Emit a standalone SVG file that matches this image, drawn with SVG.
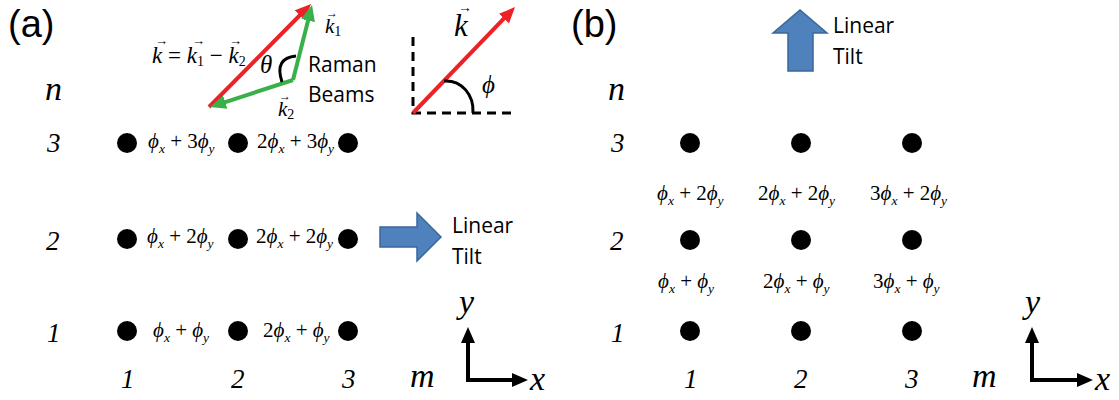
<svg xmlns="http://www.w3.org/2000/svg" width="1119" height="400" viewBox="0 0 1119 400">
<style>
.m{font-family:"Times New Roman","Liberation Serif",serif;font-size:21px;fill:#000}
.i{font-style:italic}
.s{font-size:13.5px;font-style:italic}
.sr{font-size:14px}
.lab{font-family:"Times New Roman","Liberation Serif",serif;font-style:italic;fill:#000}
.num{font-size:27px}
.big{font-size:34px}
.sans{font-family:"Open Sans","Liberation Sans",sans-serif;font-size:21px;fill:#000}
.title{font-family:"Liberation Sans","Open Sans",sans-serif;font-size:38px;fill:#000}
.acc{font-family:"Times New Roman","Liberation Serif",serif;fill:#000}
.dot{fill:#000}
.red{stroke:#EC2227;stroke-width:4;fill:none}
.grn{stroke:#3AB04A;stroke-width:4;fill:none}
.ax{stroke:#000;stroke-width:4;fill:none;stroke-linejoin:miter}
.dash{stroke:#000;stroke-width:3;stroke-dasharray:9 6;fill:none}
.arc{stroke:#000;stroke-width:3;fill:none}
.blk{fill:#4F81BD;stroke:#3A679A;stroke-width:1.5}
</style>
<defs>
<marker id="hr" markerUnits="userSpaceOnUse" markerWidth="16" markerHeight="14" viewBox="0 0 16 14" refX="4" refY="7" orient="auto"><path d="M0,0 L16,7 L0,14 z" fill="#EC2227"/></marker>
<marker id="hg" markerUnits="userSpaceOnUse" markerWidth="16" markerHeight="14" viewBox="0 0 16 14" refX="4" refY="7" orient="auto"><path d="M0,0 L16,7 L0,14 z" fill="#3AB04A"/></marker>
<marker id="hk" markerUnits="userSpaceOnUse" markerWidth="16" markerHeight="14" viewBox="0 0 16 14" refX="4" refY="7" orient="auto-start-reverse"><path d="M0,0 L16,7 L0,14 z" fill="#000"/></marker>
</defs>

<!-- Panel (a) -->
<g id="panel-a">
<text class="title" x="8" y="37">(a)</text>
<text class="lab big" x="45" y="100">n</text>
<text class="lab num" x="47" y="152">3</text>
<text class="lab num" x="46" y="250">2</text>
<text class="lab num" x="47" y="342">1</text>
<text class="lab num" x="121" y="388">1</text>
<text class="lab num" x="231" y="388">2</text>
<text class="lab num" x="342" y="388">3</text>
<text class="lab big" x="410" y="387">m</text>

<g id="a-sites">
<g id="a-3-1"><circle class="dot" cx="127" cy="143" r="10"/></g>
<g id="a-3-2"><circle class="dot" cx="238" cy="143" r="10"/></g>
<g id="a-3-3"><circle class="dot" cx="348" cy="143" r="10"/></g>
<g id="a-2-1"><circle class="dot" cx="127" cy="239" r="10"/></g>
<g id="a-2-2"><circle class="dot" cx="238" cy="239" r="10"/></g>
<g id="a-2-3"><circle class="dot" cx="348" cy="239" r="10"/></g>
<g id="a-1-1"><circle class="dot" cx="127" cy="331" r="10"/></g>
<g id="a-1-2"><circle class="dot" cx="238" cy="331" r="10"/></g>
<g id="a-1-3"><circle class="dot" cx="348" cy="331" r="10"/></g>
</g>

<g id="a-phases">
<text class="m" x="148" y="148"><tspan class="i">ϕ</tspan><tspan class="s" dy="5">x</tspan><tspan dy="-5"> + 3</tspan><tspan class="i">ϕ</tspan><tspan class="s" dy="5">y</tspan></text>
<text class="m" x="257" y="148">2<tspan class="i">ϕ</tspan><tspan class="s" dy="5">x</tspan><tspan dy="-5"> + 3</tspan><tspan class="i">ϕ</tspan><tspan class="s" dy="5">y</tspan></text>
<text class="m" x="147" y="243"><tspan class="i">ϕ</tspan><tspan class="s" dy="5">x</tspan><tspan dy="-5"> + 2</tspan><tspan class="i">ϕ</tspan><tspan class="s" dy="5">y</tspan></text>
<text class="m" x="256" y="243">2<tspan class="i">ϕ</tspan><tspan class="s" dy="5">x</tspan><tspan dy="-5"> + 2</tspan><tspan class="i">ϕ</tspan><tspan class="s" dy="5">y</tspan></text>
<text class="m" x="153" y="337"><tspan class="i">ϕ</tspan><tspan class="s" dy="5">x</tspan><tspan dy="-5"> + </tspan><tspan class="i">ϕ</tspan><tspan class="s" dy="5">y</tspan></text>
<text class="m" x="263" y="337">2<tspan class="i">ϕ</tspan><tspan class="s" dy="5">x</tspan><tspan dy="-5"> + </tspan><tspan class="i">ϕ</tspan><tspan class="s" dy="5">y</tspan></text>
</g>

<!-- Raman beam triangle -->
<g id="raman-vectors">
<path class="red" d="M209,107 L302.6,12.5" marker-end="url(#hr)"/>
<path class="grn" d="M293,80 L309.1,16.6" marker-end="url(#hg)"/>
<path class="grn" d="M293,80 L221.4,103.3" marker-end="url(#hg)"/>
<path class="arc" d="M296,56 Q274,58 282,82"/>
</g>
<text class="m i" x="260" y="73" style="font-size:25px">θ</text>
<text class="m" x="152" y="63" style="font-size:23px"><tspan class="i">k</tspan> = <tspan class="i">k</tspan><tspan class="sr" dy="3">1</tspan><tspan dy="-3"> − </tspan><tspan class="i">k</tspan><tspan class="sr" dy="3">2</tspan></text>
<text class="acc" x="155" y="45" style="font-size:13px">→</text>
<text class="acc" x="192" y="45" style="font-size:13px">→</text>
<text class="acc" x="229" y="45" style="font-size:13px">→</text>
<text class="m" x="325" y="33"><tspan class="i">k</tspan><tspan class="sr" dy="3">1</tspan></text>
<text class="acc" x="326" y="17" style="font-size:12px">→</text>
<text class="m" x="278" y="116"><tspan class="i">k</tspan><tspan class="sr" dy="3">2</tspan></text>
<text class="acc" x="279" y="100" style="font-size:12px">→</text>
<text class="sans" x="308" y="72">Raman</text>
<text class="sans" x="308" y="102">Beams</text>

<!-- k angle inset -->
<g id="k-angle">
<path class="dash" d="M413,37 V113 H512"/>
<path class="red" d="M413,113 L506.7,15.7" marker-end="url(#hr)"/>
<path class="arc" d="M444,81 C462,80 474,95 473,113"/>
</g>
<text class="m i" x="454" y="36" style="font-size:31px">k</text>
<text class="acc" x="458" y="12" style="font-size:14px">→</text>
<text class="m i" x="482" y="93" style="font-size:25px">ϕ</text>

<!-- linear tilt arrow -->
<g id="a-tilt">
<polygon class="blk" points="380,227 417,227 417,213 441,237 417,261 417,247 380,247"/>
<text class="sans" x="452" y="233">Linear</text>
<text class="sans" x="452" y="264">Tilt</text>
</g>

<!-- axes -->
<g id="a-axes">
<path class="ax" d="M468,339 V380 H516" marker-start="url(#hk)" marker-end="url(#hk)"/>
<text class="lab big" x="459" y="313">y</text>
<text class="lab big" x="530" y="390">x</text>
</g>
</g>

<!-- Panel (b) -->
<g id="panel-b">
<text class="title" x="571" y="37">(b)</text>
<text class="lab big" x="608" y="100">n</text>
<text class="lab num" x="611" y="152">3</text>
<text class="lab num" x="610" y="250">2</text>
<text class="lab num" x="611" y="342">1</text>
<text class="lab num" x="684" y="388">1</text>
<text class="lab num" x="794" y="388">2</text>
<text class="lab num" x="905" y="388">3</text>
<text class="lab big" x="972" y="387">m</text>

<g id="b-sites">
<g id="b-3-1"><circle class="dot" cx="690" cy="143" r="10"/></g>
<g id="b-3-2"><circle class="dot" cx="801" cy="143" r="10"/></g>
<g id="b-3-3"><circle class="dot" cx="912" cy="143" r="10"/></g>
<g id="b-2-1"><circle class="dot" cx="690" cy="240" r="10"/></g>
<g id="b-2-2"><circle class="dot" cx="801" cy="240" r="10"/></g>
<g id="b-2-3"><circle class="dot" cx="912" cy="240" r="10"/></g>
<g id="b-1-1"><circle class="dot" cx="690" cy="331" r="10"/></g>
<g id="b-1-2"><circle class="dot" cx="801" cy="331" r="10"/></g>
<g id="b-1-3"><circle class="dot" cx="912" cy="331" r="10"/></g>
</g>

<g id="b-phases">
<text class="m" x="657" y="200"><tspan class="i">ϕ</tspan><tspan class="s" dy="5">x</tspan><tspan dy="-5"> + 2</tspan><tspan class="i">ϕ</tspan><tspan class="s" dy="5">y</tspan></text>
<text class="m" x="758" y="200">2<tspan class="i">ϕ</tspan><tspan class="s" dy="5">x</tspan><tspan dy="-5"> + 2</tspan><tspan class="i">ϕ</tspan><tspan class="s" dy="5">y</tspan></text>
<text class="m" x="870" y="200">3<tspan class="i">ϕ</tspan><tspan class="s" dy="5">x</tspan><tspan dy="-5"> + 2</tspan><tspan class="i">ϕ</tspan><tspan class="s" dy="5">y</tspan></text>
<text class="m" x="658" y="288"><tspan class="i">ϕ</tspan><tspan class="s" dy="5">x</tspan><tspan dy="-5"> + </tspan><tspan class="i">ϕ</tspan><tspan class="s" dy="5">y</tspan></text>
<text class="m" x="763" y="288">2<tspan class="i">ϕ</tspan><tspan class="s" dy="5">x</tspan><tspan dy="-5"> + </tspan><tspan class="i">ϕ</tspan><tspan class="s" dy="5">y</tspan></text>
<text class="m" x="873" y="288">3<tspan class="i">ϕ</tspan><tspan class="s" dy="5">x</tspan><tspan dy="-5"> + </tspan><tspan class="i">ϕ</tspan><tspan class="s" dy="5">y</tspan></text>
</g>

<g id="b-tilt">
<polygon class="blk" points="788,71 788,33 773,33 800,10 827,33 813,33 813,71"/>
<text class="sans" x="833" y="33">Linear</text>
<text class="sans" x="833" y="64">Tilt</text>
</g>

<g id="b-axes">
<path class="ax" d="M1032,339 V380 H1081" marker-start="url(#hk)" marker-end="url(#hk)"/>
<text class="lab big" x="1025" y="313">y</text>
<text class="lab big" x="1095" y="390">x</text>
</g>
</g>
</svg>
